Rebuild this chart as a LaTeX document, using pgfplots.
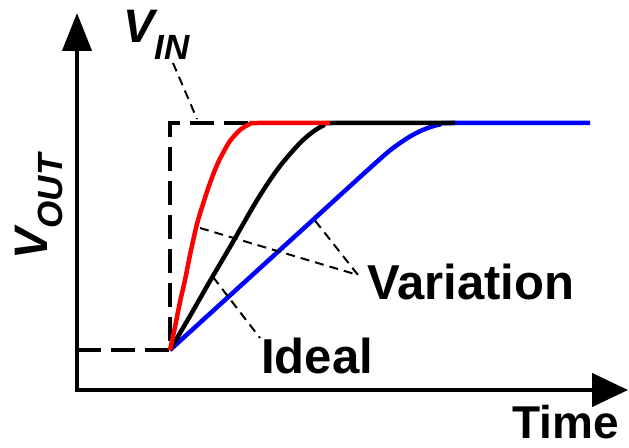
\documentclass[border=0pt]{standalone}
\usepackage{pgfplots}
\pgfplotsset{compat=1.18}
\usetikzlibrary{arrows.meta}
\usepackage{fontspec}
\setmainfont{Liberation Sans}

% step response of a settling output: ideal vs. process variation
\pgfplotstableread{
t   v
93  40
98  63
103 88
108 110
113 135
120 166
127 189
133 207
140 225
146 237
153 249
163 260
173 266
181 267
253 267
}\fastresp

\pgfplotstableread{
t   v
93  40
113 74
133 109
153 143
173 178
183 194.6
193 210
203 224
213 236
223 247
230 253.5
238 259.7
246 264.3
255 267
378 267
}\idealresp

\pgfplotstableread{
t   v
93  40
143 85.5
193 131
243 176.5
283 213
303 231
313 239.6
323 247
333 253.5
343 258.8
353 262.8
363 265.6
375 267
513 267
}\slowresp

\newcommand{\lbl}{\fontsize{49}{49}\selectfont\bfseries}
\newcommand{\sublbl}{\fontsize{35}{35}\selectfont\bfseries\itshape}

\begin{document}
\begin{tikzpicture}
\useasboundingbox (-77pt,-57pt) rectangle (552pt,390pt);
\begin{axis}[
  scale only axis, width=551pt, height=377pt,
  xmin=0, xmax=551, ymin=0, ymax=377,
  hide axis, clip=false,
]
% axes
\draw[line width=4.5pt, line join=miter,
      {Triangle[length=38pt,width=29pt]}-{Triangle[length=36pt,width=33pt]}]
  (axis cs:0,377) -- (axis cs:0,0) -- (axis cs:551,0);

% input step
\addplot[black, line width=4.5pt, line join=miter, dash pattern=on 24pt off 10pt]
  coordinates {(0,40) (93,40) (93,267) (183,267)};

% responses
\addplot[blue, line width=4.5pt, smooth, tension=0.5] table[x=t,y=v] {\slowresp};
\addplot[black, line width=4.5pt, smooth, tension=0.5] table[x=t,y=v] {\idealresp};
\addplot[red, line width=4.5pt, smooth, tension=0.5] table[x=t,y=v] {\fastresp};

% leaders
\addplot[black, line width=2pt, dash pattern=on 9pt off 6pt] coordinates {(96,327) (120,271)};
\addplot[black, line width=2pt, dash pattern=on 9pt off 6pt] coordinates {(123,162) (281,115) (236,172)};
\addplot[black, line width=2pt, dash pattern=on 9pt off 6pt] coordinates {(136,113) (183,52)};

% labels
\node[anchor=base west, inner sep=0pt] at (axis cs:46,347)
  {\fontsize{47}{47}\selectfont\bfseries\itshape V\raisebox{-17pt}{\sublbl IN}};
\node[anchor=base west, inner sep=0pt, rotate=90] at (axis cs:-29,130)
  {\fontsize{47}{47}\selectfont\bfseries\itshape V\raisebox{-15pt}{\sublbl OUT}};
\node[anchor=base west, inner sep=0pt] at (axis cs:290,90) {\lbl Variation};
\node[anchor=base west, inner sep=0pt] at (axis cs:184,17) {\lbl Ideal};
\node[anchor=base west, inner sep=0pt] at (axis cs:435,-48)
  {\fontsize{46}{46}\selectfont\bfseries Time};
\end{axis}
\end{tikzpicture}
\end{document}
